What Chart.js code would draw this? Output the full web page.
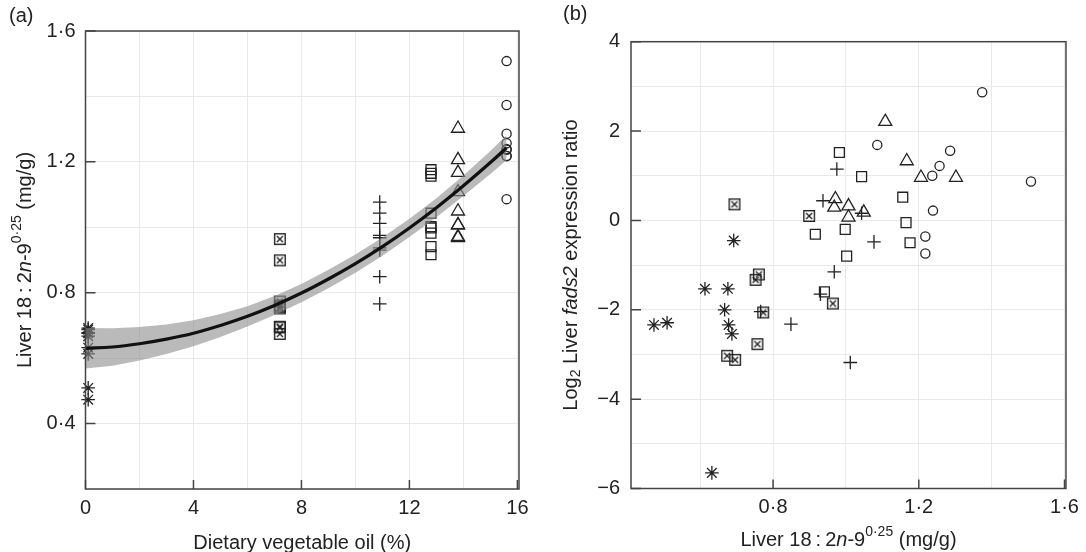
<!DOCTYPE html>
<html>
<head>
<meta charset="utf-8">
<script src="https://cdn.jsdelivr.net/npm/chart.js@4.4.1/dist/chart.umd.min.js"></script>
<style>
  html, body { margin: 0; padding: 0; background: #fff; }
  #wrap { position: relative; width: 1086px; height: 552px; }
  .panel { position: absolute; top: 0; width: 543px; height: 552px; }
</style>
</head>
<body>
<div id="wrap">
  <div class="panel" style="left:0"><canvas id="chartA" width="543" height="552"></canvas></div>
  <div class="panel" style="left:543px"><canvas id="chartB" width="543" height="552"></canvas></div>
</div>
<script>
// dietary vegetable oil (%) of each group
const dietStar = 0.1, dietXsq = 7.2, dietPlus = 10.9, dietSquare = 12.8, dietTri = 13.8, dietCircle = 15.6;

// liver 18:2n-9^0.25 (mg/g) and log2 fads2 ratio, one entry per fish
const liverStar   = [0.473, 0.509, 0.613, 0.632, 0.667, 0.676, 0.678, 0.687, 0.692];
const fadsStar    = [-2.34, -2.29, -1.53, -5.65, -2.00, -1.53, -2.34, -2.54, -0.45];
const liverXsq    = [0.694, 0.761, 0.752, 0.773, 0.757, 0.674, 0.696, 0.899, 0.964];
const fadsXsq     = [0.36, -1.21, -1.33, -2.06, -2.77, -3.03, -3.12, 0.10, -1.86];
const liverPlus   = [0.975, 0.937, 1.043, 1.077, 0.968, 0.930, 0.849, 1.012, 0.766];
const fadsPlus    = [1.15, 0.44, 0.16, -0.48, -1.15, -1.65, -2.32, -3.18, -2.04];
const liverSquare = [0.982, 1.043, 1.156, 0.916, 0.998, 1.002, 0.941, 1.165, 1.176];
const fadsSquare  = [1.52, 0.98, 0.52, -0.31, -0.20, -0.80, -1.60, -0.05, -0.50];
const liverTri    = [1.108, 1.167, 1.206, 1.302, 0.971, 0.968, 1.007, 1.049, 1.007];
const fadsTri     = [2.21, 1.33, 0.96, 0.96, 0.48, 0.29, 0.32, 0.18, 0.07];
const liverCircle = [1.374, 1.086, 1.286, 1.257, 1.237, 1.508, 1.239, 1.218, 1.218];
const fadsCircle  = [2.87, 1.69, 1.56, 1.22, 1.00, 0.87, 0.22, -0.36, -0.74];

// fitted curve and its confidence band (panel a)
const fitX     = [0, 1, 2, 3, 4, 5, 6, 7, 8, 9, 10, 11, 12, 13, 14, 15, 15.6];
const fitY     = [0.630, 0.634, 0.644, 0.658, 0.676, 0.700, 0.728, 0.761, 0.799, 0.842, 0.889, 0.941, 0.998, 1.060, 1.127, 1.198, 1.243];
const fitUpper = [0.692, 0.691, 0.695, 0.703, 0.716, 0.735, 0.759, 0.790, 0.827, 0.870, 0.917, 0.969, 1.026, 1.089, 1.158, 1.233, 1.281];
const fitLower = [0.568, 0.577, 0.593, 0.613, 0.636, 0.665, 0.697, 0.732, 0.771, 0.814, 0.861, 0.913, 0.970, 1.031, 1.096, 1.163, 1.205];

// axis titles (text, style)
const liverTitle = [['Liver 18\u2009:\u20092', ''], ['n', 'i'], ['-9', ''], ['0\u00b725', 'sup'], [' (mg/g)', '']];
const dietTitle  = [['Dietary vegetable oil (%)', '']];
const fadsTitle  = [['Log', ''], ['2', 'sub'], [' Liver ', ''], ['fads2', 'i'], [' expression ratio', '']];

const FAMILY = '"Liberation Sans", Arial, sans-serif';
const ink = '#222';
const frameColor = '#444';
const gridColor = '#e9e9e9';

function crossedSquare() {
    const c = document.createElement('canvas');
    c.width = 14; c.height = 14;
    const g = c.getContext('2d');
    g.strokeStyle = ink;
    g.lineWidth = 1.4;
    g.strokeRect(1.7, 1.7, 10.6, 10.6);
    g.beginPath();
    g.moveTo(4, 4); g.lineTo(10, 10);
    g.moveTo(10, 4); g.lineTo(4, 10);
    g.stroke();
    return c;
}

const groups = [
    { diet: dietStar,   liver: liverStar,   fads: fadsStar,   style: 'star',          r: 6.8 },
    { diet: dietXsq,    liver: liverXsq,    fads: fadsXsq,    style: crossedSquare(), r: 6 },
    { diet: dietPlus,   liver: liverPlus,   fads: fadsPlus,   style: 'cross',         r: 6.8 },
    { diet: dietSquare, liver: liverSquare, fads: fadsSquare, style: 'rect',          r: 7 },
    { diet: dietTri,    liver: liverTri,    fads: fadsTri,    style: 'triangle',      r: 7.5 },
    { diet: dietCircle, liver: liverCircle, fads: fadsCircle, style: 'circle',        r: 4.6 }
];

function pointSet(data, g) {
    return {
        data: data,
        pointStyle: g.style,
        pointRadius: g.r,
        pointHoverRadius: g.r,
        pointBorderColor: ink,
        pointBackgroundColor: 'rgba(0,0,0,0)',
        pointBorderWidth: 1.3,
        showLine: false,
        clip: false,
        order: 3
    };
}

function drawRich(ctx, parts, cx, cy, angle) {
    const fontFor = st => (st === 'i' ? 'italic ' : '') + (st === 'sup' || st === 'sub' ? 14 : 20) + 'px ' + FAMILY;
    ctx.save();
    ctx.translate(cx, cy);
    ctx.rotate(angle);
    let total = 0;
    parts.forEach(p => { ctx.font = fontFor(p[1]); total += ctx.measureText(p[0]).width; });
    let x = -total / 2;
    ctx.textBaseline = 'middle';
    ctx.textAlign = 'left';
    ctx.fillStyle = ink;
    parts.forEach(p => {
        ctx.font = fontFor(p[1]);
        const dy = p[1] === 'sup' ? -7.5 : (p[1] === 'sub' ? 5.5 : 0);
        ctx.fillText(p[0], x, dy);
        x += ctx.measureText(p[0]).width;
    });
    ctx.restore();
}

// frame, inward tick marks, panel letter and axis titles
function panelDecor(letter, letterX, letterY, xTitle, xTitleY, yTitle, yTitleX) {
    return {
        id: 'decor' + letter,
        afterDraw(chart) {
            const ctx = chart.ctx;
            const a = chart.chartArea;
            const sx = chart.scales.x, sy = chart.scales.y;
            ctx.save();
            ctx.strokeStyle = frameColor;
            ctx.lineWidth = 1.5;
            ctx.strokeRect(a.left, a.top, a.right - a.left, a.bottom - a.top);
            ctx.beginPath();
            sx.ticks.forEach(t => {
                if (!t.label) return;
                const px = sx.getPixelForValue(t.value);
                ctx.moveTo(px, a.bottom); ctx.lineTo(px, a.bottom - 9);
            });
            sy.ticks.forEach(t => {
                if (!t.label) return;
                const py = sy.getPixelForValue(t.value);
                ctx.moveTo(a.left, py); ctx.lineTo(a.left + 10, py);
            });
            ctx.stroke();
            ctx.font = '20px ' + FAMILY;
            ctx.fillStyle = ink;
            ctx.textBaseline = 'middle';
            ctx.fillText('(' + letter + ')', letterX, letterY);
            ctx.restore();
            drawRich(ctx, xTitle, (a.left + a.right) / 2, xTitleY, 0);
            drawRich(ctx, yTitle, yTitleX, (a.top + a.bottom) / 2, -Math.PI / 2);
        }
    };
}

const dot = v => v.toFixed(1).replace('.', '\u00b7');
const isStep = (v, s) => Math.abs(v / s - Math.round(v / s)) < 1e-6;
const tickFont = { family: FAMILY, size: 20 };

function baseOptions(xScale, yScale) {
    return {
        responsive: false,
        animation: false,
        events: [],
        layout: {},
        plugins: { legend: { display: false }, tooltip: { enabled: false } },
        scales: { x: xScale, y: yScale }
    };
}

// ---- panel (a)
const dataA = [];
groups.forEach(g => dataA.push(pointSet(g.liver.map(v => ({ x: g.diet, y: v })), g)));
const lowerIndex = dataA.length;
dataA.push({
    data: fitX.map((x, i) => ({ x: x, y: fitLower[i] })),
    showLine: true, pointRadius: 0, borderWidth: 0, borderColor: 'rgba(0,0,0,0)', order: 2
});
dataA.push({
    data: fitX.map((x, i) => ({ x: x, y: fitUpper[i] })),
    showLine: true, pointRadius: 0, borderWidth: 0, borderColor: 'rgba(0,0,0,0)',
    fill: { target: lowerIndex }, backgroundColor: 'rgba(140,140,140,0.6)', order: 2
});
dataA.push({
    data: fitX.map((x, i) => ({ x: x, y: fitY[i] })),
    showLine: true, pointRadius: 0, borderWidth: 3.2, borderColor: '#111', tension: 0.4, order: 1
});

const optsA = baseOptions(
    {
        type: 'linear', min: 0, max: 16.06,
        grid: { color: gridColor, drawTicks: false },
        border: { display: false },
        ticks: { stepSize: 2, includeBounds: false, autoSkip: false, maxRotation: 0, padding: 7,
                 font: tickFont, color: ink, callback: v => isStep(v, 4) ? String(v) : '' },
        afterFit: s => { s.height = 63; }
    },
    {
        type: 'linear', min: 0.2, max: 1.6,
        grid: { color: gridColor, drawTicks: false },
        border: { display: false },
        ticks: { stepSize: 0.2, autoSkip: false, padding: 10,
                 font: tickFont, color: ink, callback: v => isStep(v, 0.4) ? dot(v) : '' },
        afterFit: s => { s.width = 85.5; }
    }
);
optsA.layout.padding = { top: 31, right: 24, left: 0, bottom: 0 };

new Chart(document.getElementById('chartA'), {
    type: 'scatter',
    data: { datasets: dataA },
    options: optsA,
    plugins: [panelDecor('a', 9, 16, dietTitle, 543, liverTitle, 25)]
});

// ---- panel (b)
const dataB = groups.map(g => pointSet(g.liver.map((v, i) => ({ x: v, y: g.fads[i] })), g));

const optsB = baseOptions(
    {
        type: 'linear', min: 0.41, max: 1.604,
        grid: { color: gridColor, drawTicks: false },
        border: { display: false },
        ticks: { stepSize: 0.2, includeBounds: false, autoSkip: false, maxRotation: 0, padding: 7,
                 font: tickFont, color: ink, callback: v => (v > 0.5 && isStep(v, 0.4)) ? dot(v) : '' },
        afterFit: s => { s.height = 63.5; }
    },
    {
        type: 'linear', min: -6, max: 4,
        grid: { color: gridColor, drawTicks: false },
        border: { display: false },
        ticks: { stepSize: 1, autoSkip: false, padding: 11,
                 font: tickFont, color: ink, callback: v => isStep(v, 2) ? (v < 0 ? '\u2212' + (-v) : String(v)) : '' },
        afterFit: s => { s.width = 88; }
    }
);
optsB.layout.padding = { top: 41.7, right: 12, left: 0, bottom: 0 };

new Chart(document.getElementById('chartB'), {
    type: 'scatter',
    data: { datasets: dataB },
    options: optsB,
    plugins: [panelDecor('b', 20, 14, liverTitle, 540, fadsTitle, 28)]
});
</script>
</body>
</html>
